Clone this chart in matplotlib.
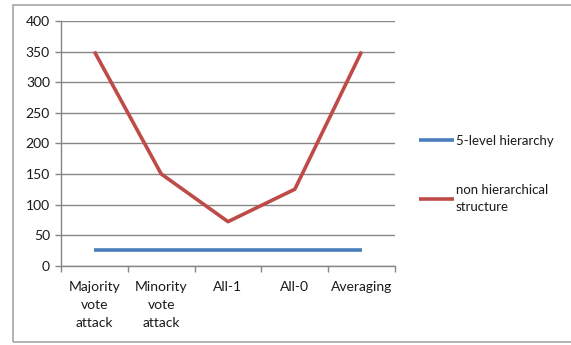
import matplotlib
matplotlib.use("Agg")
import matplotlib.pyplot as plt
from matplotlib.patches import Rectangle

categories = ["Majority\nvote\nattack", "Minority\nvote\nattack", "All-1", "All-0", "Averaging"]
hierarchy_5 = [25, 25, 25, 25, 25]
non_hierarchical = [350, 150, 72, 125, 350]
series_names = ["5-level hierarchy", "non hierarchical\nstructure"]
y_ticks = [0, 50, 100, 150, 200, 250, 300, 350, 400]

W, H = 571, 345
plt.rcParams["font.family"] = ["Lato", "DejaVu Sans"]
fig = plt.figure(figsize=(W / 100, H / 100), dpi=100)

# chart frame
fig.patches.append(Rectangle((12.5 / W, 1 - 342 / H), (W + 5) / W, (342 - 4.5) / H,
                             transform=fig.transFigure, fill=False,
                             edgecolor="#a6a6a6", linewidth=1.2, zorder=0))

ax = fig.add_axes([61 / W, 1 - 265.7 / H, (395 - 61) / W, (265.7 - 21) / H])
x = list(range(len(categories)))
l1, = ax.plot(x, hierarchy_5, color="#4a7ebb", linewidth=2.6, solid_capstyle="butt")
l2, = ax.plot(x, non_hierarchical, color="#be4b48", linewidth=2.6, solid_capstyle="butt")

ax.set_xlim(-0.5, len(categories) - 0.5)
ax.set_ylim(0, 400)
ax.set_yticks(y_ticks)
ax.set_yticklabels([str(v) for v in y_ticks], fontsize=10, color="#1a1a1a")
ax.set_xticks([i - 0.5 for i in range(len(categories) + 1)], minor=False)
ax.set_xticklabels([])
ax.set_xticks(x, minor=True)
ax.set_xticklabels(categories, minor=True, fontsize=10, color="#1a1a1a", linespacing=1.62)
ax.tick_params(axis="x", which="minor", length=0, pad=11)
ax.tick_params(axis="x", which="major", length=4, color="#868686", width=1)
ax.tick_params(axis="y", length=4, color="#868686", width=1, pad=4)
ax.grid(axis="y", color="#868686", linewidth=1)
ax.set_axisbelow(True)
for s in ["top", "right"]:
    ax.spines[s].set_visible(False)
for s in ["left", "bottom"]:
    ax.spines[s].set_color("#868686")
    ax.spines[s].set_linewidth(1)

leg = fig.legend([l1, l2], series_names, loc="upper left",
                 bbox_to_anchor=(412 / W, 1 - 128 / H), frameon=False,
                 fontsize=9.5, handlelength=2.7, handletextpad=0.1,
                 labelspacing=2.83, borderpad=0)
for t in leg.get_texts():
    t.set_color("#1a1a1a")
    t.set_linespacing(1.55)

fig.savefig("out.png", dpi=100)
